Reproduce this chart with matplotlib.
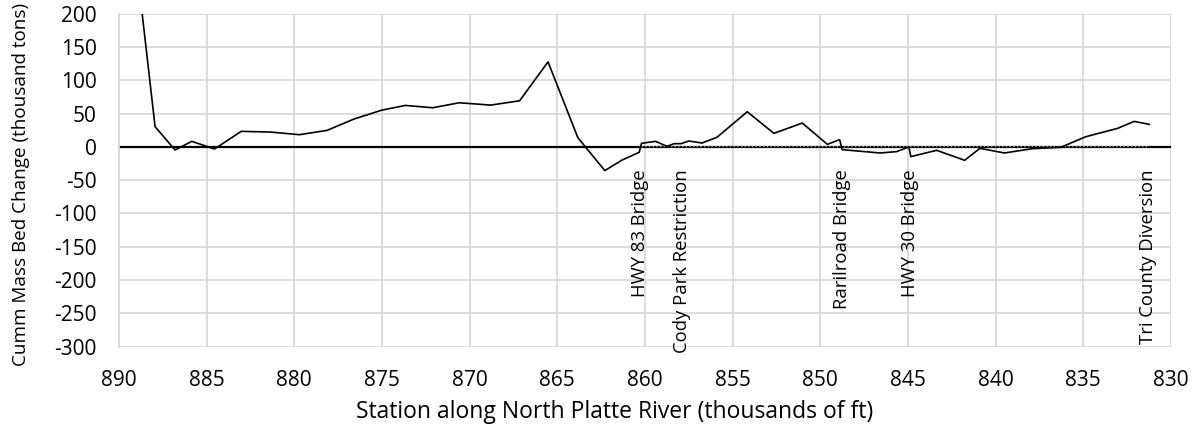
import matplotlib
matplotlib.use("Agg")
import matplotlib.pyplot as plt

plt.rcParams['font.family'] = ['Open Sans', 'DejaVu Sans']
plt.rcParams['axes.unicode_minus'] = False

# Data
station = [889.0, 887.94, 886.8, 885.85, 884.55, 883.03, 881.37, 879.71, 878.13,
           876.6, 875.0, 873.66, 872.1, 870.6, 868.8, 867.15, 865.53, 863.83,
           862.29, 861.3, 860.33, 860.2, 859.4, 858.75, 858.33, 857.95, 857.5,
           856.75, 855.9, 854.17, 852.65, 851.03, 849.6, 848.9, 848.76, 848.1,
           846.6, 845.66, 844.95, 844.84, 843.37, 841.77, 840.9, 839.5, 837.9,
           836.29, 834.86, 833.05, 832.1, 831.24]
mass_change = [275, 30.5, -4.5, 8.5, -3, 23.5, 22.5, 18.5, 25,
               42, 55.5, 62.5, 59, 66.5, 63, 69.5, 128, 14,
               -35.5, -19.5, -8, 5.5, 8.5, 1, 5, 5, 9,
               6, 14.5, 53, 20.5, 36, 4, 11, -4, -5.5,
               -9, -7, 0, -14.5, -5, -20, -2, -9, -2.5,
               -0.5, 15.5, 28, 38.5, 34]

ref_station = [860.2, 831.24]
ref_value = [2, 2]

landmarks = ["HWY 83 Bridge", "Cody Park Restriction", "Rarilroad Bridge",
             "HWY 30 Bridge", "Tri County Diversion"]
landmark_station = [860.28, 857.9, 848.78, 844.88, 831.32]

x_ticks = [890, 885, 880, 875, 870, 865, 860, 855, 850, 845, 840, 835, 830]
y_ticks = [200, 150, 100, 50, 0, -50, -100, -150, -200, -250, -300]

fig = plt.figure(figsize=(11.98, 4.29), dpi=100)
ax = fig.add_axes([0.0993, 0.1923, 0.8782, 0.7751])

ax.set_xlim(890, 830)
ax.set_ylim(-300, 200)
ax.set_xticks(x_ticks)
ax.set_yticks(y_ticks)
ax.grid(True, color='#d9d9d9', linewidth=1.3)
ax.set_axisbelow(True)
for s in ax.spines.values():
    s.set_visible(False)
ax.spines['left'].set_visible(True)
ax.spines['left'].set_color('#d9d9d9')
ax.spines['left'].set_linewidth(1.3)
ax.tick_params(length=0, labelsize=15, colors='black')
ax.tick_params(axis='y', pad=16)
ax.tick_params(axis='x', pad=17)

ax.axhline(0, color='black', linewidth=1.6, zorder=2)
ax.plot(ref_station, ref_value, color='#a6a6a6', linestyle=':', linewidth=1.0, zorder=3)
ax.plot(station, mass_change, color='black', linewidth=1.2, zorder=4)

for name, st in zip(landmarks, landmark_station):
    ax.text(st, -33, name, rotation=90, ha='center', va='top', fontsize=13.3,
            zorder=5)

fig.text(0.513, 0.0245, "Station along North Platte River (thousands of ft)",
         ha='center', va='baseline', fontsize=16.5)
fig.text(0.0175, 0.571, "Cumm Mass Bed Change (thousand tons)", rotation=90,
         ha='center', va='center', fontsize=13.6)

fig.savefig("out.png", dpi=100)
